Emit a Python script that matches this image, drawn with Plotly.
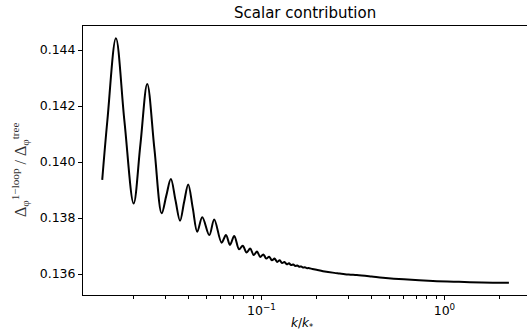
import plotly.graph_objects as go

# k / k_* values
k_vals = [
    0.01349, 0.01440, 0.01603, 0.01784, 0.02003, 0.02182, 0.02377, 0.02602,
    0.0285, 0.03019, 0.0320, 0.03389, 0.0359, 0.03780, 0.0398, 0.04213,
    0.0446, 0.0475, 0.0519, 0.0552, 0.0606, 0.0640, 0.0673, 0.0710, 0.0755,
    0.0790, 0.0830, 0.0868, 0.0907, 0.0946, 0.0985, 0.1024, 0.1063, 0.1102,
    0.1141, 0.1180, 0.1219, 0.1258, 0.1297, 0.1336, 0.1375, 0.1414, 0.1453,
    0.1492, 0.1531, 0.1570, 0.1609, 0.1648, 0.1687, 0.1726, 0.1765, 0.1804,
    0.190, 0.200, 0.217, 0.250, 0.268, 0.300, 0.332, 0.400, 0.461, 0.600,
    0.865, 1.200, 1.600, 2.250,
]
# Delta^{1-loop} / Delta^{tree}
ratio_vals = [
    0.13936, 0.14150, 0.14442, 0.14146, 0.13852, 0.14064, 0.14279, 0.14046,
    0.13817, 0.13879, 0.13939, 0.13864, 0.13790, 0.13857, 0.13920, 0.13836,
    0.13751, 0.13803, 0.13739, 0.13795, 0.13712, 0.13739, 0.13704, 0.13736, 0.13688,
    0.13701, 0.13677, 0.13691, 0.13668, 0.13680, 0.13661, 0.13670, 0.13655, 0.13662,
    0.13649, 0.13655, 0.13643, 0.13649, 0.13639, 0.13643, 0.13635, 0.13638, 0.13632,
    0.13634, 0.13629, 0.13630, 0.13626, 0.13627, 0.13623, 0.136238, 0.13621, 0.13621,
    0.13618, 0.13615, 0.13610, 0.13604, 0.13602, 0.13598, 0.13596, 0.13591, 0.13587, 0.13581,
    0.13575, 0.13572, 0.13570, 0.13569,
]

y_ticks = [0.136, 0.138, 0.140, 0.142, 0.144]
y_tick_text = ["0.136", "0.138", "0.140", "0.142", "0.144"]
x_ticks = [0.1, 1.0]
x_tick_text = ["10<sup>−1</sup>", "10<sup>0</sup>"]
x_minor = [0.02, 0.03, 0.04, 0.05, 0.06, 0.07, 0.08, 0.09,
           0.2, 0.3, 0.4, 0.5, 0.6, 0.7, 0.8, 0.9, 2.0]

title_text = "Scalar contribution"
x_label = "<i>k</i>/<i>k</i><sub>*</sub>"
y_label = "Δ<sub>φ</sub><sup>1−loop</sup> / Δ<sub>φ</sub><sup>tree</sup>"

fig = go.Figure()
fig.add_trace(go.Scatter(
    x=k_vals, y=ratio_vals, mode="lines",
    line=dict(color="black", width=2, shape="spline", smoothing=1.0),
    showlegend=False, hoverinfo="skip",
))

font = "DejaVu Sans"
fig.update_layout(
    width=527, height=334,
    margin=dict(l=83, r=0, t=26, b=39),
    paper_bgcolor="white", plot_bgcolor="white",
    font=dict(family=font, size=12.5, color="black"),
    annotations=[
        dict(text=title_text, xref="paper", yref="paper", x=0.5, y=1.0,
             xanchor="center", yanchor="bottom", yshift=2, showarrow=False,
             font=dict(family=font, size=15, color="black")),
        dict(text=x_label, xref="paper", yref="paper", x=(302 - 83) / 444, y=0,
             xanchor="center", yanchor="middle", yshift=-29, showarrow=False,
             font=dict(family=font, size=12, color="black")),
        dict(text=y_label, xref="paper", yref="paper", x=(20 - 83) / 444,
             y=(295 - 170) / 269, xanchor="center", yanchor="middle",
             textangle=-90, showarrow=False,
             font=dict(family="Liberation Serif", size=16, color="#333333")),
    ],
)
fig.update_xaxes(
    type="log", range=[-1.975, 0.451],
    showline=True, linecolor="black", linewidth=1, mirror=True,
    ticks="outside", ticklen=4, tickwidth=1, tickcolor="black",
    tickvals=x_ticks, ticktext=x_tick_text,
    minor=dict(tickmode="array", tickvals=x_minor, ticks="outside",
               ticklen=2.5, tickwidth=0.8, tickcolor="black", showgrid=False),
    showgrid=False, zeroline=False,
)
fig.update_yaxes(
    range=[0.13525, 0.144857],
    showline=True, linecolor="black", linewidth=1, mirror=False,
    ticks="outside", ticklen=4, tickwidth=1, tickcolor="black",
    tickvals=y_ticks, ticktext=y_tick_text,
    showgrid=False, zeroline=False,
)

fig.write_html("out.html")
